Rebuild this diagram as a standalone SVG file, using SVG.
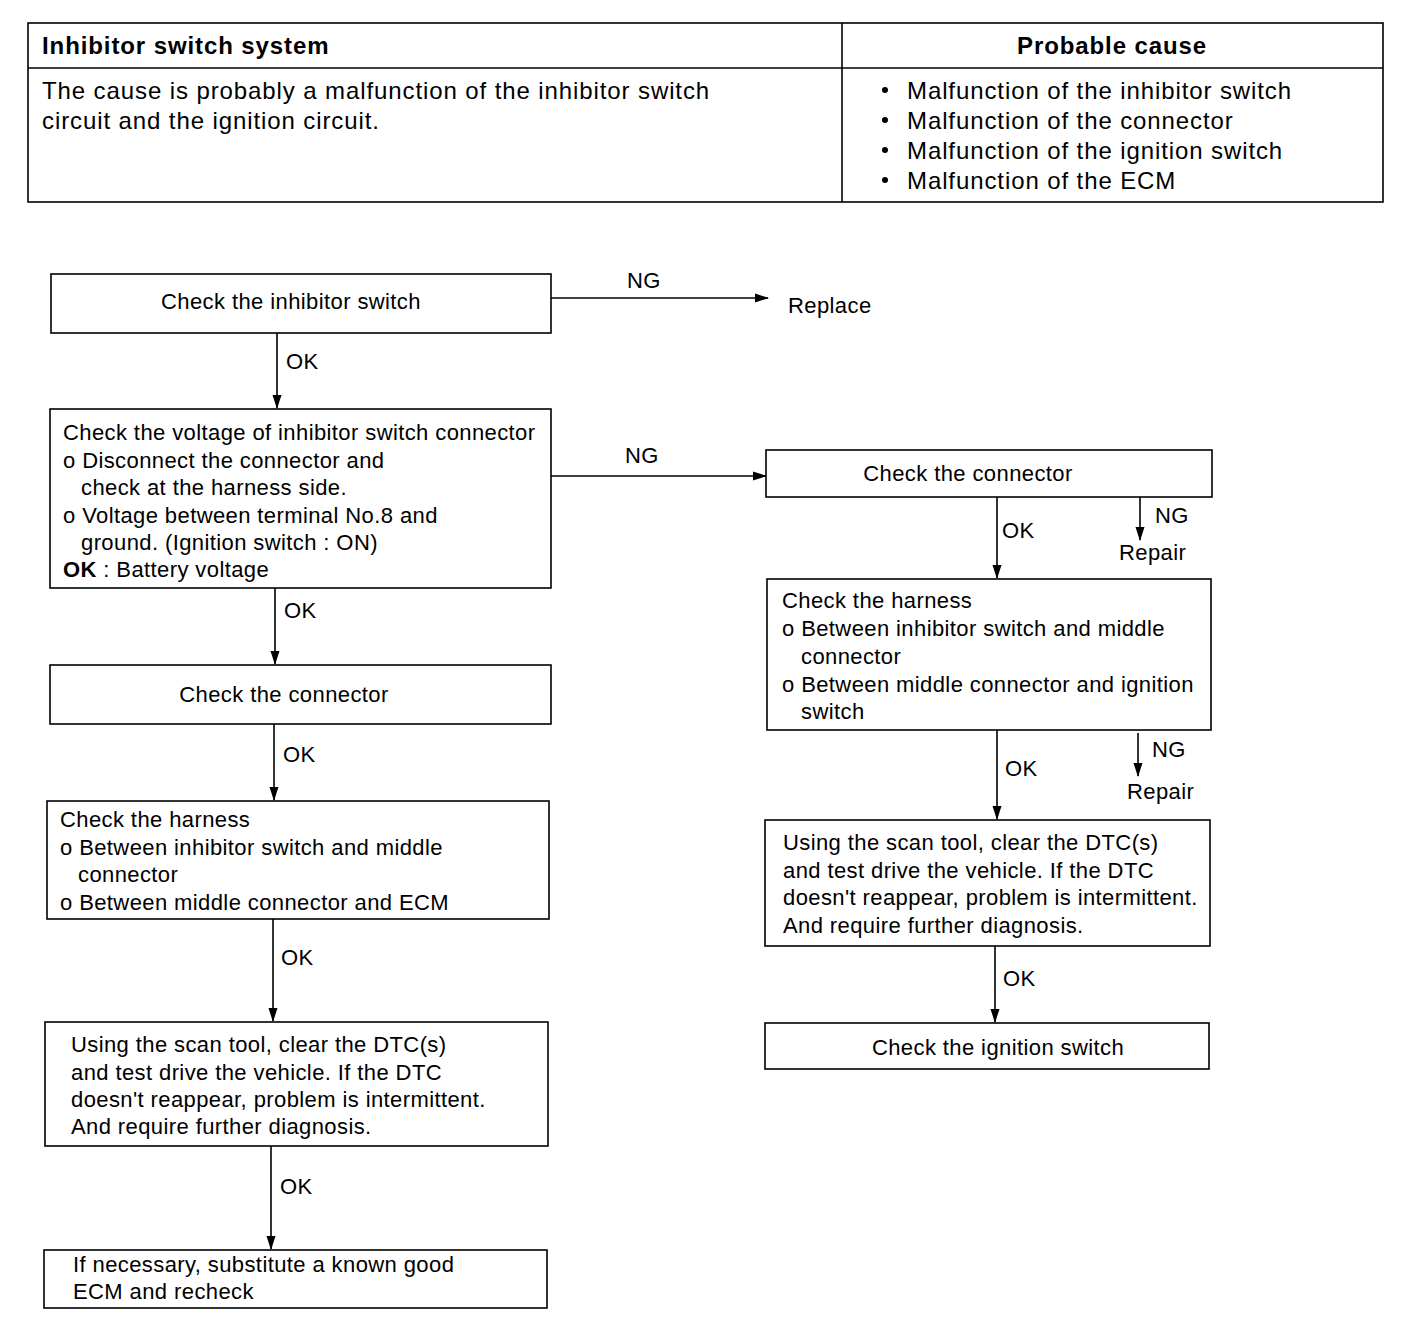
<svg xmlns="http://www.w3.org/2000/svg" width="1408" height="1330" viewBox="0 0 1408 1330">
<defs>
<marker id="ah" markerWidth="14" markerHeight="10" refX="13" refY="5" orient="auto" markerUnits="userSpaceOnUse">
<path d="M0,0.5 L14,5 L0,9.5 Z" fill="#000"/>
</marker>
<style>
text{font-family:"Liberation Sans",Arial,sans-serif;fill:#000}
.t{font-size:24px;letter-spacing:0.9px}
.th{font-size:24px;font-weight:bold;letter-spacing:0.9px}
.n{font-size:22px;letter-spacing:0.4px}
.l{font-size:22px;letter-spacing:0.4px}
.box{fill:#fff;stroke:#000;stroke-width:1.6}
.c{fill:none;stroke:#000;stroke-width:1.6;marker-end:url(#ah)}
.m{text-anchor:middle}
</style>
</defs>
<rect width="1408" height="1330" fill="#fff"/>
<g id="table">
<rect x="28" y="23" width="1355" height="179" fill="none" stroke="#000" stroke-width="1.6"/>
<line x1="28" y1="68" x2="1383" y2="68" stroke="#000" stroke-width="1.6"/>
<line x1="842" y1="23" x2="842" y2="202" stroke="#000" stroke-width="1.6"/>
<text class="th" x="42" y="54">Inhibitor switch system</text>
<text class="th m" x="1112" y="54">Probable cause</text>
<text class="t" x="42" y="99">The cause is probably a malfunction of the inhibitor switch</text>
<text class="t" x="42" y="129">circuit and the ignition circuit.</text>
<g fill="#000"><circle cx="885" cy="90" r="3"/><circle cx="885" cy="120" r="3"/><circle cx="885" cy="150" r="3"/><circle cx="885" cy="180" r="3"/></g>
<text class="t" x="907" y="99">Malfunction of the inhibitor switch</text>
<text class="t" x="907" y="129">Malfunction of the connector</text>
<text class="t" x="907" y="159">Malfunction of the ignition switch</text>
<text class="t" x="907" y="189">Malfunction of the ECM</text>
</g>
<g id="connectors">
<line class="c" x1="551" y1="298" x2="768" y2="298"/>
<line class="c" x1="277" y1="333" x2="277" y2="408"/>
<line class="c" x1="551" y1="476" x2="766" y2="476"/>
<line class="c" x1="275" y1="588" x2="275" y2="664"/>
<line class="c" x1="274" y1="724" x2="274" y2="800"/>
<line class="c" x1="273" y1="919" x2="273" y2="1021"/>
<line class="c" x1="271" y1="1146" x2="271" y2="1249"/>
<line class="c" x1="997" y1="497" x2="997" y2="578"/>
<line class="c" x1="1140" y1="497" x2="1140" y2="540"/>
<line class="c" x1="997" y1="730" x2="997" y2="819"/>
<line class="c" x1="1138" y1="733" x2="1138" y2="776"/>
<line class="c" x1="995" y1="946" x2="995" y2="1022"/>
<text class="l" x="627" y="288">NG</text>
<text class="l" x="788" y="313">Replace</text>
<text class="l" x="286" y="369">OK</text>
<text class="l" x="625" y="463">NG</text>
<text class="l" x="284" y="618">OK</text>
<text class="l" x="283" y="762">OK</text>
<text class="l" x="281" y="965">OK</text>
<text class="l" x="280" y="1194">OK</text>
<text class="l" x="1002" y="538">OK</text>
<text class="l" x="1155" y="523">NG</text>
<text class="l" x="1119" y="560">Repair</text>
<text class="l" x="1005" y="776">OK</text>
<text class="l" x="1152" y="757">NG</text>
<text class="l" x="1127" y="799">Repair</text>
<text class="l" x="1003" y="986">OK</text>
</g>
<g id="n1">
<rect class="box" x="51" y="274" width="500" height="59"/>
<text class="n m" x="291" y="309">Check the inhibitor switch</text>
</g>
<g id="n2">
<rect class="box" x="50" y="409" width="501" height="179"/>
<text class="n" x="63" y="440">Check the voltage of inhibitor switch connector</text>
<text class="n" x="63" y="468">o Disconnect the connector and</text>
<text class="n" x="81" y="495">check at the harness side.</text>
<text class="n" x="63" y="523">o Voltage between terminal No.8 and</text>
<text class="n" x="81" y="550">ground. (Ignition switch : ON)</text>
<text class="n" x="63" y="577"><tspan font-weight="bold">OK</tspan> : Battery voltage</text>
</g>
<g id="n3">
<rect class="box" x="766" y="450" width="446" height="47"/>
<text class="n m" x="968" y="481">Check the connector</text>
</g>
<g id="n4">
<rect class="box" x="50" y="665" width="501" height="59"/>
<text class="n m" x="284" y="702">Check the connector</text>
</g>
<g id="n5">
<rect class="box" x="47" y="801" width="502" height="118"/>
<text class="n" x="60" y="827">Check the harness</text>
<text class="n" x="60" y="855">o Between inhibitor switch and middle</text>
<text class="n" x="78" y="882">connector</text>
<text class="n" x="60" y="910">o Between middle connector and ECM</text>
</g>
<g id="n6">
<rect class="box" x="45" y="1022" width="503" height="124"/>
<text class="n" x="71" y="1052">Using the scan tool, clear the DTC(s)</text>
<text class="n" x="71" y="1080">and test drive the vehicle. If the DTC</text>
<text class="n" x="71" y="1107">doesn't reappear, problem is intermittent.</text>
<text class="n" x="71" y="1134">And require further diagnosis.</text>
</g>
<g id="n7">
<rect class="box" x="44" y="1250" width="503" height="58"/>
<text class="n" x="73" y="1272">If necessary, substitute a known good</text>
<text class="n" x="73" y="1299">ECM and recheck</text>
</g>
<g id="n8">
<rect class="box" x="767" y="579" width="444" height="151"/>
<text class="n" x="782" y="608">Check the harness</text>
<text class="n" x="782" y="636">o Between inhibitor switch and middle</text>
<text class="n" x="801" y="664">connector</text>
<text class="n" x="782" y="692">o Between middle connector and ignition</text>
<text class="n" x="801" y="719">switch</text>
</g>
<g id="n9">
<rect class="box" x="765" y="820" width="445" height="126"/>
<text class="n" x="783" y="850">Using the scan tool, clear the DTC(s)</text>
<text class="n" x="783" y="878">and test drive the vehicle. If the DTC</text>
<text class="n" x="783" y="905">doesn't reappear, problem is intermittent.</text>
<text class="n" x="783" y="933">And require further diagnosis.</text>
</g>
<g id="n10">
<rect class="box" x="765" y="1023" width="444" height="46"/>
<text class="n m" x="998" y="1055">Check the ignition switch</text>
</g>
</svg>
